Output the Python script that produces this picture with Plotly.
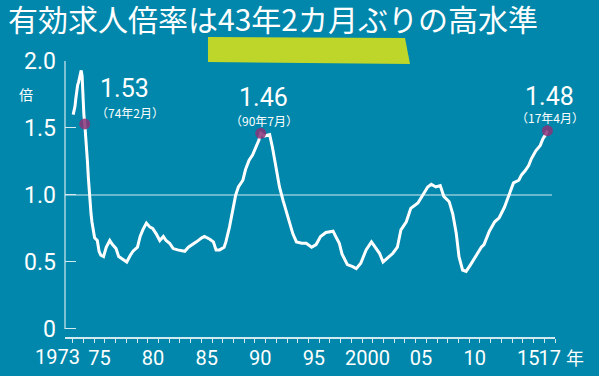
import plotly.graph_objects as go

# ---- data ----
months = [
    "1973-01", "1973-02", "1973-03", "1973-04", "1973-05", "1973-06", "1973-07", "1973-08",
    "1973-09", "1973-10", "1973-11", "1973-12", "1974-01", "1974-02", "1974-03", "1974-04",
    "1974-05", "1974-06", "1974-07", "1974-08", "1974-09", "1974-10", "1974-11", "1975-01",
    "1975-04", "1975-06", "1975-08", "1975-11", "1976-02", "1976-06", "1976-09", "1977-01",
    "1977-04", "1977-09", "1978-01", "1978-05", "1978-08", "1979-01", "1979-04", "1979-07",
    "1979-11", "1980-03", "1980-06", "1980-10", "1981-02", "1981-06", "1981-09", "1982-01",
    "1982-05", "1982-10", "1983-06", "1983-10", "1984-03", "1984-07", "1985-01", "1985-04",
    "1985-10", "1986-02", "1986-05", "1986-09", "1987-02", "1987-04", "1987-08", "1987-12",
    "1988-03", "1988-06", "1988-11", "1989-02", "1989-06", "1989-10", "1990-01", "1990-05",
    "1990-07", "1990-11", "1991-05", "1991-08", "1991-12", "1992-04", "1992-08", "1993-01",
    "1993-07", "1993-11", "1994-05", "1994-10", "1995-04", "1995-09", "1996-02", "1996-08",
    "1997-04", "1997-07", "1997-11", "1998-02", "1998-08", "1999-02", "1999-06", "1999-11",
    "2000-05", "2000-11", "2001-04", "2001-08", "2001-12", "2002-05", "2002-11", "2003-04",
    "2003-08", "2004-02", "2004-07", "2005-03", "2005-08", "2006-02", "2006-06", "2006-11",
    "2007-04", "2007-08", "2008-02", "2008-06", "2008-10", "2009-01", "2009-05", "2009-09",
    "2010-02", "2010-08", "2011-02", "2011-05", "2011-11", "2012-05", "2012-10", "2013-04",
    "2013-09", "2014-02", "2014-08", "2014-11", "2015-03", "2015-07", "2015-10", "2016-03",
    "2016-08", "2016-11", "2017-02", "2017-04",
]
ratio = [
    1.60, 1.63, 1.66, 1.72, 1.80, 1.82, 1.84, 1.88,
    1.92, 1.93, 1.89, 1.72, 1.60, 1.53, 1.45, 1.34,
    1.25, 1.13, 1.02, 0.90, 0.86, 0.80, 0.76, 0.68,
    0.66, 0.58, 0.55, 0.54, 0.61, 0.66, 0.63, 0.60,
    0.54, 0.52, 0.50, 0.55, 0.58, 0.61, 0.69, 0.74,
    0.79, 0.76, 0.75, 0.71, 0.66, 0.69, 0.66, 0.64,
    0.60, 0.59, 0.58, 0.61, 0.63, 0.65, 0.68, 0.69,
    0.67, 0.65, 0.59, 0.59, 0.61, 0.65, 0.76, 0.89,
    1.00, 1.06, 1.11, 1.19, 1.26, 1.30, 1.35, 1.41,
    1.46, 1.44, 1.45, 1.36, 1.21, 1.06, 0.96, 0.84,
    0.71, 0.65, 0.64, 0.64, 0.61, 0.63, 0.69, 0.72,
    0.73, 0.69, 0.64, 0.56, 0.48, 0.465, 0.45, 0.49,
    0.59, 0.65, 0.60, 0.565, 0.50, 0.53, 0.565, 0.61,
    0.74, 0.80, 0.90, 0.94, 0.99, 1.06, 1.08, 1.06,
    1.07, 0.99, 0.95, 0.86, 0.71, 0.54, 0.44, 0.43,
    0.48, 0.55, 0.61, 0.63, 0.73, 0.80, 0.83, 0.91,
    1.00, 1.09, 1.11, 1.15, 1.18, 1.22, 1.27, 1.33,
    1.37, 1.42, 1.45, 1.48,
]
peak_months = ["1974-02", "1990-07", "2017-04"]
peak_values = [1.53, 1.46, 1.48]
peak_labels = ["1.53", "1.46", "1.48"]
peak_notes = ["（74年2月）", "（90年7月）", "（17年4月）"]

tick_years = [1975, 1980, 1985, 1990, 1995, 2000, 2005, 2010, 2015, 2017]
tick_text = ["75", "80", "85", "90", "95", "2000", "05", "10", "15", "17"]
y_ticks = [0, 0.5, 1.0, 1.5, 2.0]
y_tick_text = ["0", "0.5", "1.0", "1.5", "2.0"]

title_text = "有効求人倍率は43年2カ月ぶりの高水準"

# ---- styling ----
BG = "#0087ab"
AXIS = "#d3e9f0"
NUM_FONT = "Roboto, sans-serif"
JP_FONT = "Noto Sans CJK JP, sans-serif"


def to_t(s):
    y, m = s.split("-")
    return int(y) + (int(m) - 0.5) / 12.0


x = [to_t(s) for s in months]
px = [to_t(s) for s in peak_months]

X0, X1 = 1972.28, 2018.0
Y0, Y1 = -0.06, 2.0

fig = go.Figure()
fig.add_trace(go.Scatter(
    x=x, y=ratio, mode="lines",
    line=dict(color="white", width=3),
    hoverinfo="skip", showlegend=False,
))
fig.add_trace(go.Scatter(
    x=px, y=peak_values, mode="markers",
    marker=dict(size=11, color="#8a3478", opacity=0.85, line=dict(width=0)),
    hoverinfo="skip", showlegend=False,
))

annotations = []
offsets = [
    # (xshift, yshift, xanchor) for the value and the note
    ((13, 35, "left"), (9, 11, "left")),
    ((3, 36, "center"), (3, 13, "center")),
    ((2, 34, "center"), (3, 13, "center")),
]
for xv, yv, lab, note, (o1, o2) in zip(px, peak_values, peak_labels, peak_notes, offsets):
    annotations.append(dict(
        x=xv, y=yv, xref="x", yref="y", text=lab, showarrow=False,
        xanchor=o1[2], yanchor="middle", xshift=o1[0], yshift=o1[1],
        font=dict(family=NUM_FONT, size=25, color="white"),
    ))
    annotations.append(dict(
        x=xv, y=yv, xref="x", yref="y", text=note, showarrow=False,
        xanchor=o2[2], yanchor="middle", xshift=o2[0], yshift=o2[1],
        font=dict(family=JP_FONT, size=12, color="white"),
    ))

# unit label and extra axis texts
annotations.append(dict(
    x=-39 / 490, y=(337 - 94) / 276, xref="paper", yref="paper", text="倍",
    showarrow=False, xanchor="center", yanchor="middle",
    font=dict(family=JP_FONT, size=14, color="white"),
))
annotations.append(dict(
    x=(82 - 65) / 490, y=(337 - 357) / 276, xref="paper", yref="paper", text="1973",
    showarrow=False, xanchor="right", yanchor="middle",
    font=dict(family=NUM_FONT, size=20, color="white"),
))
annotations.append(dict(
    x=(564 - 65) / 490, y=(337 - 357) / 276, xref="paper", yref="paper", text="年",
    showarrow=False, xanchor="left", yanchor="middle",
    font=dict(family=JP_FONT, size=18, color="white"),
))

shapes = [
    # highlight under the title
    dict(type="path", xref="paper", yref="paper", layer="below",
         path="M {:.4f},{:.4f} L {:.4f},{:.4f} L {:.4f},{:.4f} L {:.4f},{:.4f} Z".format(
             (208 - 65) / 490, (337 - 37) / 276,
             (405 - 65) / 490, (337 - 38) / 276,
             (410 - 65) / 490, (337 - 64) / 276,
             (208 - 65) / 490, (337 - 62) / 276),
         fillcolor="#bed629", line=dict(width=0)),
    # 1.0 reference line
    dict(type="line", xref="paper", yref="y", x0=0, x1=(552 - 65) / 490, y0=1.0, y1=1.0,
         line=dict(color=AXIS, width=1.2), layer="below"),
    # y axis line (0 .. 2.0)
    dict(type="line", xref="paper", yref="y", x0=0, x1=0, y0=0, y1=2.0,
         line=dict(color=AXIS, width=1.2)),
]

fig.update_layout(
    width=599, height=376,
    margin=dict(l=65, r=44, t=61, b=39, autoexpand=False),
    paper_bgcolor=BG, plot_bgcolor=BG,
    title=dict(text=title_text, x=8 / 599, xanchor="left", xref="container",
               y=1 - 10 / 376, yanchor="top", yref="container",
               font=dict(family=JP_FONT, size=30, color="white")),
    annotations=annotations,
    shapes=shapes,
    showlegend=False,
)
fig.update_xaxes(
    range=[X0, X1], showgrid=False, zeroline=False, automargin=False,
    showline=True, linecolor=AXIS, linewidth=2,
    tickmode="array", tickvals=[t + 0.5 for t in tick_years], ticktext=tick_text,
    ticks="", ticklabelstandoff=2, tickangle=0,
    tickfont=dict(family=NUM_FONT, size=20, color="white"),
    minor=dict(tickmode="linear", tick0=1973, dtick=1, ticks="outside",
               ticklen=4, tickwidth=1, tickcolor=AXIS, showgrid=False),
)
fig.update_yaxes(
    range=[Y0, Y1], showgrid=False, zeroline=False, showline=False, automargin=False,
    tickmode="array", tickvals=y_ticks, ticktext=y_tick_text,
    ticks="inside", ticklen=11, tickwidth=1.2, tickcolor=AXIS,
    ticklabelstandoff=8,
    tickfont=dict(family=NUM_FONT, size=23, color="white"),
)

fig.write_html(
    "out.html",
    config={"displayModeBar": False},
    post_script="document.body.style.margin='0';document.body.style.background='%s';" % BG,
)
